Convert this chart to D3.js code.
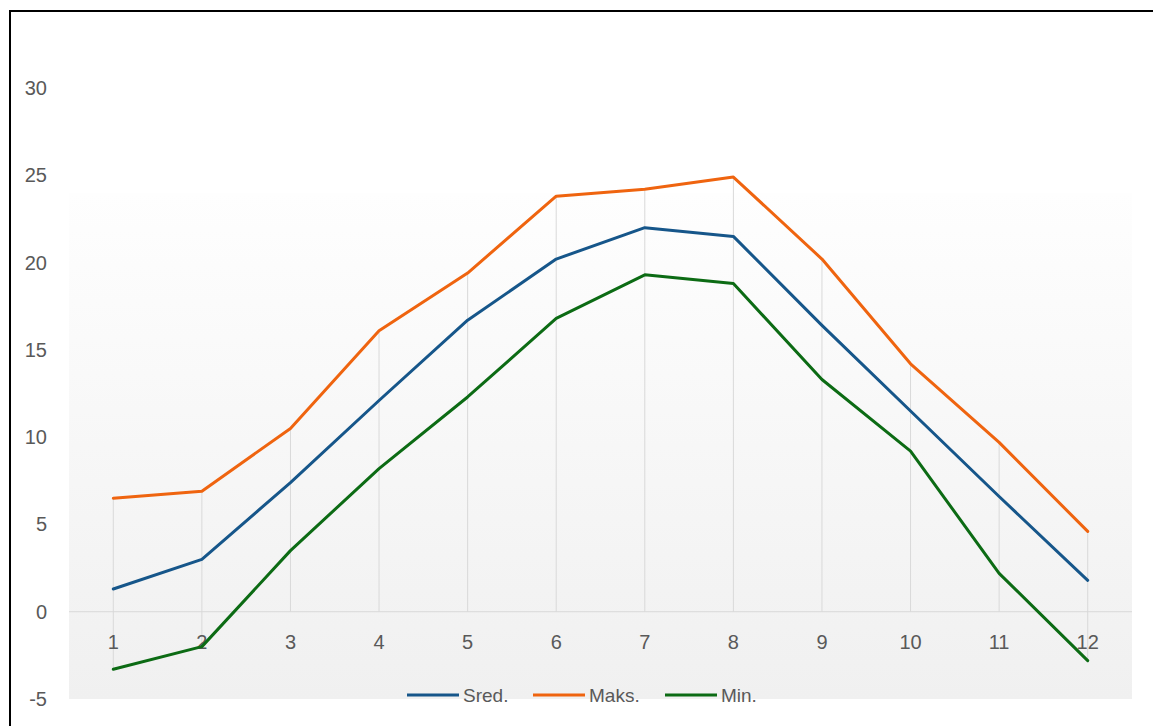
<!DOCTYPE html>
<html>
<head>
<meta charset="utf-8">
<script src="https://cdn.jsdelivr.net/npm/d3@7"></script>
<style>
body { margin: 0; background: #fff; }
svg { display: block; font-family: "Liberation Sans", Arial, sans-serif; }
</style>
</head>
<body>
<div id="chart"></div>
<script>
// data
var months = [1, 2, 3, 4, 5, 6, 7, 8, 9, 10, 11, 12];
var sred = [1.3, 3.0, 7.4, 12.1, 16.7, 20.2, 22.0, 21.5, 16.4, 11.5, 6.6, 1.8];
var maks = [6.5, 6.9, 10.5, 16.1, 19.4, 23.8, 24.2, 24.9, 20.2, 14.2, 9.7, 4.6];
var mini = [-3.3, -2.0, 3.5, 8.2, 12.3, 16.8, 19.3, 18.8, 13.3, 9.2, 2.2, -2.8];
var yTicks = [-5, 0, 5, 10, 15, 20, 25, 30];
var seriesNames = ["Sred.", "Maks.", "Min."];

var series = [
	{ name: seriesNames[0], values: sred, color: "#16568a" },
	{ name: seriesNames[1], values: maks, color: "#ef640f" },
	{ name: seriesNames[2], values: mini, color: "#0c6b14" }
];

var W = 1153, H = 726;
var svg = d3.select("#chart").append("svg")
	.attr("width", W)
	.attr("height", H);

// border
svg.append("rect")
	.attr("x", 10).attr("y", 11)
	.attr("width", W + 10).attr("height", H + 10)
	.attr("fill", "#fff")
	.attr("stroke", "#000")
	.attr("stroke-width", 2);

var x = d3.scaleBand()
	.domain(months)
	.range([69, 1132]);
var y = d3.scaleLinear()
	.domain([-5, 30])
	.range([699, 88]);

// plot area background gradient
var grad = svg.append("defs").append("linearGradient")
	.attr("id", "bg")
	.attr("x1", 0).attr("y1", 0).attr("x2", 0).attr("y2", 1);
grad.append("stop").attr("offset", "0%").attr("stop-color", "#fefefe");
grad.append("stop").attr("offset", "100%").attr("stop-color", "#f0f0f0");

svg.append("rect")
	.attr("x", 69).attr("y", 193)
	.attr("width", 1132 - 69).attr("height", 699 - 193)
	.attr("fill", "url(#bg)");

var cx = function(d) { return x(d) + x.bandwidth() / 2; };

// drop lines
months.forEach(function(m, i) {
	var hi = d3.max(series, function(s) { return s.values[i]; });
	var lo = d3.min(series, function(s) { return s.values[i]; });
	svg.append("line")
		.attr("x1", cx(m)).attr("x2", cx(m))
		.attr("y1", y(Math.max(hi, 0)))
		.attr("y2", y(Math.min(lo, 0)))
		.attr("stroke", "#d9d9d9")
		.attr("stroke-width", 1);
});

// zero line
svg.append("line")
	.attr("x1", 69).attr("x2", 1132)
	.attr("y1", y(0)).attr("y2", y(0))
	.attr("stroke", "#d9d9d9")
	.attr("stroke-width", 1);

// y labels
svg.selectAll(".ylab")
	.data(yTicks)
	.enter()
	.append("text")
	.attr("class", "ylab")
	.attr("x", 47)
	.attr("y", function(d) { return y(d); })
	.attr("dy", "0.35em")
	.attr("text-anchor", "end")
	.attr("fill", "#595959")
	.style("font-size", "20px")
	.text(function(d) { return d; });

// x labels
svg.selectAll(".xlab")
	.data(months)
	.enter()
	.append("text")
	.attr("class", "xlab")
	.attr("x", cx)
	.attr("y", 642)
	.attr("dy", "0.35em")
	.attr("text-anchor", "middle")
	.attr("fill", "#595959")
	.style("font-size", "20px")
	.text(function(d) { return d; });

// lines
var line = d3.line()
	.x(function(d, i) { return cx(months[i]); })
	.y(function(d) { return y(d); });

svg.selectAll(".series")
	.data(series)
	.enter()
	.append("path")
	.attr("class", "series")
	.attr("fill", "none")
	.attr("stroke", function(d) { return d.color; })
	.attr("stroke-width", 3)
	.attr("stroke-linejoin", "round")
	.attr("stroke-linecap", "round")
	.attr("d", function(d) { return line(d.values); });

// legend
var legX = [407, 533, 665];
var leg = svg.selectAll(".leg")
	.data(series)
	.enter()
	.append("g")
	.attr("class", "leg")
	.attr("transform", function(d, i) { return "translate(" + legX[i] + ",695)"; });
leg.append("line")
	.attr("x1", 0).attr("x2", 52)
	.attr("stroke", function(d) { return d.color; })
	.attr("stroke-width", 3);
leg.append("text")
	.attr("x", 56)
	.attr("dy", "0.35em")
	.attr("fill", "#595959")
	.style("font-size", "19px")
	.text(function(d) { return d.name; });
</script>
</body>
</html>
